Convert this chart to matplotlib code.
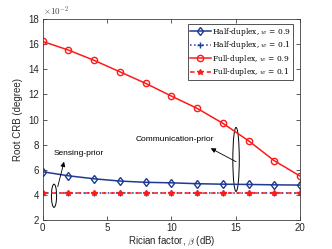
import numpy as np
import matplotlib
matplotlib.use('Agg')
import matplotlib.pyplot as plt
from matplotlib.patches import Ellipse

plt.rcParams['font.family'] = 'Liberation Sans'
plt.rcParams['mathtext.fontset'] = 'cm'

# Rician factor (dB)
beta = [0, 2, 4, 6, 8, 10, 12, 14, 16, 18, 20]

# root CRB values, x 1e-2 degree
half_09 = [5.84, 5.52, 5.28, 5.10, 5.00, 4.96, 4.89, 4.85, 4.83, 4.80, 4.78]
half_01 = [4.12, 4.12, 4.12, 4.12, 4.12, 4.12, 4.12, 4.12, 4.12, 4.12, 4.12]
full_09 = [16.22, 15.53, 14.71, 13.80, 12.88, 11.87, 10.89, 9.70, 8.31, 6.72, 5.50]
full_01 = [4.12, 4.12, 4.12, 4.12, 4.12, 4.12, 4.12, 4.12, 4.12, 4.12, 4.12]

blue = '#1f3a93'
red = '#ff1a1a'

fig = plt.figure(figsize=(3.32, 2.49), dpi=100)
ax = fig.add_axes([0.1286, 0.1165, 0.775, 0.807])

ax.plot(beta, half_09, color=blue, marker='d', mfc='none', ms=4.5, lw=1.1,
        label='Half-duplex, $w$ = 0.9')
ax.plot(beta, half_01, color=blue, ls=':', marker='+', ms=4, lw=1.1,
        label='Half-duplex, $w$ = 0.1')
ax.plot(beta, full_09, color=red, marker='o', mfc='none', ms=4.5, lw=1.1,
        label='Full-duplex, $w$ = 0.9')
ax.plot(beta, full_01, color=red, ls=(0, (3, 2.5)), marker='*', ms=4, lw=1.1,
        label='Full-duplex, $w$ = 0.1')

ax.set_xlim(0, 20)
ax.set_ylim(2, 18)
ax.set_xticks([0, 5, 10, 15, 20])
ax.set_yticks(range(2, 19, 2))
ax.tick_params(direction='in', top=True, right=True, labelsize=7, length=3,
               width=0.6, colors='#404040', labelcolor='#262626', pad=2.5)
for s in ax.spines.values():
    s.set_linewidth(0.6)
    s.set_color('#404040')

ax.set_xlabel(r'Rician factor, $\beta$ (dB)', fontsize=7, labelpad=1, color='#262626')
ax.set_ylabel('Root CRB (degree)', fontsize=7, labelpad=4, color='#262626')
ax.text(0.0, 1.005, r'$\times10^{-2}$', transform=ax.transAxes, fontsize=6.5,
        ha='left', va='bottom', color='#404040')

leg = ax.legend(loc='upper right', bbox_to_anchor=(0.973, 0.975),
                prop={'family': 'DejaVu Serif', 'size': 5.4},
                frameon=True, fancybox=False, edgecolor='#262626', borderpad=0.25,
                labelspacing=0.2, handlelength=2.8, handletextpad=0.2,
                borderaxespad=0)
leg.get_frame().set_linewidth(0.7)

# annotations
arrow = dict(arrowstyle='-|>', color='k', lw=0.6, mutation_scale=7,
             shrinkA=0, shrinkB=0)
ax.add_patch(Ellipse((0.88, 3.93), 0.4, 1.85, fill=False, lw=0.7, color='k'))
ax.annotate('', xy=(1.66, 6.64), xytext=(1.17, 4.65), arrowprops=arrow)
ax.text(2.83, 7.33, 'Sensing-prior', fontsize=6, ha='center', va='center')

ax.add_patch(Ellipse((15.03, 6.82), 0.5, 5.1, fill=False, lw=0.7, color='k'))
ax.annotate('', xy=(13.06, 7.71), xytext=(15.03, 6.64), arrowprops=arrow)
ax.text(10.3, 8.42, 'Communication-prior', fontsize=6, ha='center', va='center')

plt.savefig('out.png', dpi=100)
